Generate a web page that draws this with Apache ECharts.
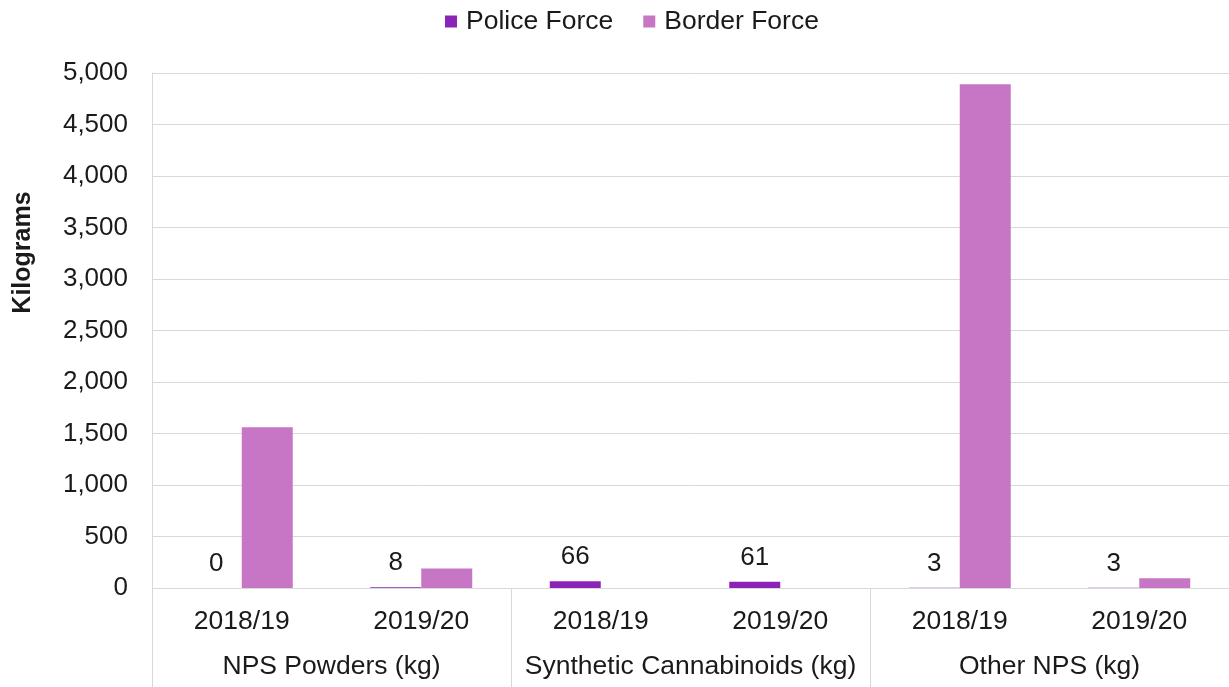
<!DOCTYPE html>
<html>
<head>
<meta charset="utf-8">
<script src="https://cdn.jsdelivr.net/npm/echarts@6/dist/echarts.min.js"></script>
<style>html,body{margin:0;padding:0;background:#fff}#c{width:1229px;height:687px}</style>
</head>
<body>
<div id="c"></div>
<script>
const years = ['2018/19', '2019/20', '2018/19', '2019/20', '2018/19', '2019/20'];
const groups = ['NPS Powders (kg)', 'Synthetic Cannabinoids (kg)', 'Other NPS (kg)'];
const policeForce = [0, 8, 66, 61, 3, 3];
const borderForce = [1560, 190, 0, 0, 4890, 95];
const seriesNames = ['Police Force', 'Border Force'];

const FONT = 'Liberation Sans, Arial, sans-serif';
const TXT = '#1a1a1a';
const GRID = '#d9d9d9';

const chart = echarts.init(document.getElementById('c'));
chart.setOption({
  animation: false,
  textStyle: { fontFamily: FONT },
  legend: {
    top: 3, left: 440,
    itemWidth: 12, itemHeight: 12, itemGap: 30,
    icon: 'rect',
    textStyle: { fontSize: 26.5, color: TXT, fontFamily: FONT, padding: [0, 0, 0, 4] },
    data: seriesNames
  },
  grid: { left: 152, right: 0, top: 73, bottom: 99, containLabel: false },
  xAxis: [
    {
      type: 'category',
      data: years,
      axisLine: { lineStyle: { color: GRID, width: 1 } },
      axisTick: { show: true, length: 100, interval: function (i) { return i % 2 === 0; }, lineStyle: { color: GRID } },
      axisLabel: { fontSize: 26.5, color: TXT, margin: 20, interval: 0, fontFamily: FONT }
    },
    {
      type: 'category',
      data: groups,
      position: 'bottom',
      axisLine: { show: false },
      axisTick: { show: false },
      axisLabel: { fontSize: 26.5, color: TXT, margin: 65, interval: 0, fontFamily: FONT }
    }
  ],
  yAxis: {
    type: 'value',
    min: 0, max: 5000, interval: 500,
    name: 'Kilograms',
    nameLocation: 'middle',
    nameGap: 116,
    nameTextStyle: { fontSize: 25, fontWeight: 'bold', color: TXT, fontFamily: FONT, padding: [0, 0, 0, 156] },
    axisLine: { show: true, lineStyle: { color: GRID } },
    axisTick: { show: false },
    splitLine: { lineStyle: { color: GRID, width: 1 } },
    axisLabel: {
      fontSize: 26, color: TXT, margin: 24, fontFamily: FONT,
      formatter: function (v) { return v.toLocaleString('en-US'); }
    }
  },
  series: [
    {
      name: seriesNames[0], type: 'bar', xAxisIndex: 0,
      data: policeForce, barWidth: 51, barGap: '0%',
      itemStyle: { color: '#8B24B6' },
      label: { show: true, position: 'top', distance: 11, fontSize: 26, color: TXT, fontFamily: FONT }
    },
    {
      name: seriesNames[1], type: 'bar', xAxisIndex: 0,
      data: borderForce, barWidth: 51, barGap: '0%',
      itemStyle: { color: '#C676C4' }
    }
  ]
});
</script>
</body>
</html>
